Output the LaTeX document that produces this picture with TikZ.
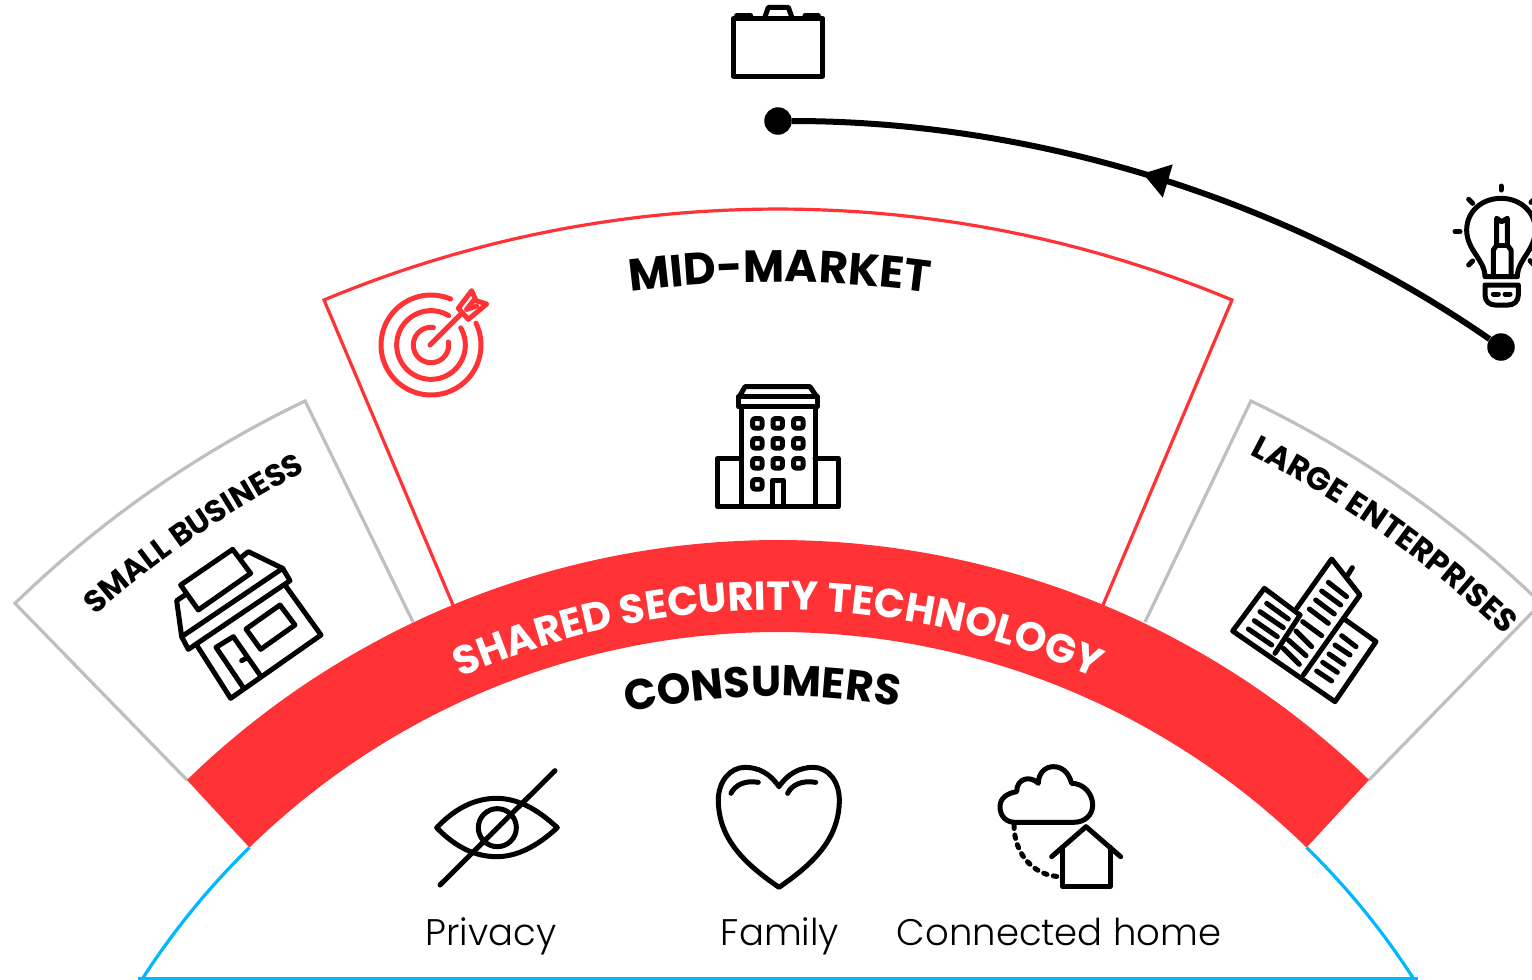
\documentclass[tikz,border=0pt]{standalone}
\usepackage{fontspec}
\usetikzlibrary{arrows.meta,decorations.text,decorations.markings}
\setmainfont{Poppins}
\newfontfamily\boldf{Poppins}[UprightFont=* Bold]
\newfontfamily\lightf{Poppins}[UprightFont=* Light]
\definecolor{redc}{HTML}{FF3336}
\definecolor{greyc}{HTML}{BFBFBF}
\definecolor{bluec}{HTML}{00B8FF}
\tikzset{
 icon/.style={draw=black,line width=5pt,line join=round,line cap=round},
 iconr/.style={draw=redc,line width=5pt,line join=round,line cap=round},
 zoomed/.style={shift={#1},x=0.33333pt,y=-0.33333pt},
 sector/.style={line width=3.2pt,line join=miter},
 dotn/.style={circle,fill=black,inner sep=0pt,minimum size=27.5pt},
 lab/.style={inner sep=0pt,anchor=base,font=\lightf\fontsize{37}{37}\selectfont},
 curved/.style n args={2}{decorate,decoration={text along path,text align=center,text={|#1|#2}}},
 conn/.style={line width=6pt,draw=black,postaction={decorate,decoration={markings,mark=at position 0.52 with {\arrow{Triangle[length=26pt,width=33pt]}}}}}
}
\begin{document}
\begin{tikzpicture}[x=1pt,y=-1pt]
\useasboundingbox (0,0) rectangle (1532,980);
\clip (0,0) rectangle (1532,980);
\fill[white] (0,0) rectangle (1532,980);
% sectors
\draw[sector,greyc] (187,780) -- plot[domain=-44.2:-25.6,samples=90] ({778+1094.5*sin(\x)},{1388-1094.5*cos(\x)}) -- (413,622);
\draw[sector,greyc] (1369,780) -- plot[domain=44.2:25.6,samples=90] ({778+1094.5*sin(\x)},{1388-1094.5*cos(\x)}) -- (1145,622);
\draw[sector,redc] (453,605) -- plot[domain=-22.65:22.65,samples=90] ({778+1179*sin(\x)},{1388-1179*cos(\x)}) -- (1103,605);
\draw[sector,bluec] plot[domain=-44.36:-57.6,samples=30] ({778+756*sin(\x)},{1388-756*cos(\x)});
\draw[sector,bluec] plot[domain=44.36:57.6,samples=30] ({778+756*sin(\x)},{1388-756*cos(\x)});
\draw[sector,bluec] (138,979) -- (1418,979);
\fill[redc] plot[domain=-44.19:44.19,samples=120] ({778+848*sin(\x)},{1388-848*cos(\x)}) -- plot[domain=44.36:-44.36,samples=120] ({778+756*sin(\x)},{1388-756*cos(\x)}) -- cycle;
% curved titles
\path[curved={\boldf\fontsize{40.6}{41}\selectfont\color{white}}{SHARED SECURITY TECHNOLOGY}] plot[domain=-32:32,samples=90] ({778+778*sin(\x)},{1388-778*cos(\x)});
\path[curved={\boldf\fontsize{45}{45}\selectfont\color{black}}{MID-MARKET}] plot[domain=-12:12.2,samples=60] ({778+1106*sin(\x)},{1388-1106*cos(\x)});
\path[curved={\boldf\fontsize{43}{43}\selectfont\color{black}}{CONSUMERS}] plot[domain=-18:15.4,samples=60] ({778+692*sin(\x)},{1388-692*cos(\x)});
\path[curved={\boldf\fontsize{31}{31}\selectfont\color{black}}{SMALL BUSINESS}] plot[domain=-46:-22.7,samples=60] ({778+1031*sin(\x)},{1388-1031*cos(\x)});
\path[curved={\boldf\fontsize{32}{32}\selectfont\color{black}}{LARGE ENTERPRISES}] plot[domain=23:47.8,samples=60] ({778+1046*sin(\x)},{1388-1046*cos(\x)});
% journey
\node[dotn] (dotA) at (778,121) {};
\node[dotn] (dotB) at (1501,347) {};
\draw[conn] (dotB) .. controls (1289,200) and (1036,121) .. (dotA);
% briefcase
\begin{scope}[zoomed={(710,0)}]
\draw[icon] (70,55) rectangle (338,228);
\draw[icon] (165,50) -- (175,22) -- (235,22) -- (245,50);
\draw[icon] (80,47) -- (122,47);
\draw[icon] (285,47) -- (325,47);
\end{scope}
% bulb
\begin{scope}[zoomed={(1430,170)}]
\draw[icon] (165,320) .. controls (165,270) and (110,240) .. (110,180) .. controls (110,125) and (155,85) .. (213,85) .. controls (270,85) and (316,125) .. (316,180) .. controls (316,240) and (262,270) .. (262,320) -- cycle;
\draw[icon] (190,320) -- (190,240) -- (200,225) -- (200,145) -- (215,155) -- (232,145) -- (232,225) -- (243,240) -- (243,320);
\draw[icon] (205,225) -- (230,225);
\draw[icon] (165,345) -- (265,345) -- (265,375) .. controls (265,395) and (250,405) .. (235,405) -- (195,405) .. controls (180,405) and (165,395) .. (165,375) -- cycle;
\draw[icon] (190,372) -- (205,372);
\draw[icon] (225,372) -- (240,372);
\draw[icon] (213,48) -- (213,60);
\draw[icon] (116,88) -- (128,100);
\draw[icon] (75,185) -- (90,185);
\draw[icon] (116,285) -- (128,273);
\draw[icon] (303,97) -- (316,85);
\draw[icon] (300,272) -- (315,288);
\end{scope}
% target
\begin{scope}[zoomed={(360,280)}]
\draw[iconr] plot[domain=67:386,samples=70] ({213+150*cos(\x)},{195-150*sin(\x)});
\draw[iconr] plot[domain=59:390,samples=70] ({213+103*cos(\x)},{195-103*sin(\x)});
\draw[iconr] plot[domain=82:370,samples=60] ({213+53*cos(\x)},{195-53*sin(\x)});
\draw[iconr] (210,195) -- (305,100);
\draw[iconr] (295,85) -- (335,32) -- (348,62) -- (380,72) -- (325,118) -- cycle;
\draw[iconr] (320,88) -- (340,62);
\draw[iconr] (320,88) -- (350,78);
\end{scope}
% office building
\begin{scope}[zoomed={(700,375)}]
\draw[icon] (118,65) -- (135,35) -- (330,35) -- (350,65);
\draw[icon] (115,65) rectangle (352,95);
\draw[icon] (125,95) -- (125,395);
\draw[icon] (345,95) -- (345,395);
\draw[icon] (125,250) -- (52,250) -- (52,395) -- (415,395) -- (415,250) -- (345,250);
\foreach \cx in {172,233,295}\foreach \cy in {145,205,265}{
 \draw[icon,rounded corners=2pt] (\cx-14,\cy-14) rectangle (\cx+14,\cy+14);}
\draw[icon,rounded corners=2pt] (158,314) rectangle (186,342);
\draw[icon] (217,395) -- (217,315) -- (250,315) -- (250,395);
\end{scope}
% shop
\begin{scope}[zoomed={(160,530)}]
\draw[icon] (110,345) -- (212,505) -- (483,315) -- (375,165);
\draw[icon] (65,320) -- (85,358) -- (390,152) -- (368,115) -- cycle;
\draw[icon] (65,320) -- (50,212) -- (75,195);
\draw[icon] (240,85) -- (265,65) -- (368,115);
\draw[icon] (62,165) -- (115,240) -- (272,130) -- (218,58) -- cycle;
\draw[icon] (258,297) -- (302,358) -- (405,285) -- (360,225) -- cycle;
\draw[icon] (248,470) -- (168,352) -- (220,320) -- (300,435);
\draw[icon] (245,392) -- (258,385);
\end{scope}
% towers
\begin{scope}[zoomed={(1220,545)}]
\draw[icon] (240,210) -- (133,130) -- (38,258) -- (345,470) -- (468,290) -- (370,220);
\draw[icon] (165,325) -- (240,210);
\draw[icon] (250,390) -- (420,150) -- (335,42) -- (230,190);
\draw[icon] (380,95) -- (397,68);
\foreach \a/\b/\c/\d in {140/175/205/222,120/200/190/248,103/227/172/275,85/252/155/300,
 325/112/380/155,305/138/362/180,287/165/343/207,268/192/325/235,248/230/305/272,228/258/275/305,205/285/258/332,190/310/238/358,
 365/272/408/305,345/300/390/330,327/327/372/358,308/352/352/382,290/378/335/408}{
 \draw[icon] (\a,\b) -- (\c,\d);}
\end{scope}
% eye
\begin{scope}[zoomed={(420,750)}]
\draw[icon] (50,233) .. controls (110,170) and (170,145) .. (230,145) .. controls (290,145) and (350,175) .. (412,233) .. controls (350,290) and (290,320) .. (230,320) .. controls (170,320) and (110,295) .. (50,233) -- cycle;
\draw[icon] (232,233) circle [radius=57];
\draw[icon] (60,405) -- (405,62);
% heart
\draw[icon] (1077,110) .. controls (1050,70) and (1015,52) .. (975,52) .. controls (930,52) and (895,95) .. (895,150) .. controls (895,270) and (980,345) .. (1077,412) .. controls (1174,345) and (1258,270) .. (1258,150) .. controls (1258,95) and (1225,52) .. (1180,52) .. controls (1140,52) and (1104,70) .. (1077,110) -- cycle;
\draw[icon] (933,130) .. controls (945,105) and (975,90) .. (1015,97);
\draw[icon] (1103,130) .. controls (1115,105) and (1145,90) .. (1187,97);
\end{scope}
% cloud and home
\begin{scope}[zoomed={(880,750)}]
\draw[icon] (405,217) -- (580,217) .. controls (615,217) and (638,195) .. (638,165) .. controls (638,130) and (610,100) .. (575,100) .. controls (565,65) and (545,50) .. (520,50) .. controls (495,50) and (475,70) .. (475,100) .. controls (450,75) and (410,85) .. (410,125) .. controls (380,130) and (360,145) .. (360,170) .. controls (360,200) and (380,217) .. (405,217) -- cycle;
\draw[icon,dash pattern=on 3.5pt off 6.5pt] (402,225) .. controls (402,310) and (460,380) .. (545,380);
\draw[icon] (515,320) -- (618,230) -- (722,320);
\draw[icon] (548,292) -- (548,410) -- (690,410) -- (690,292);
\end{scope}
% labels
\node[lab] (privacy) at (491,945) {Privacy};
\node[lab] (family) at (780,945) {Family};
\node[lab] (home) at (1059,945) {Connected home};
\end{tikzpicture}
\end{document}
